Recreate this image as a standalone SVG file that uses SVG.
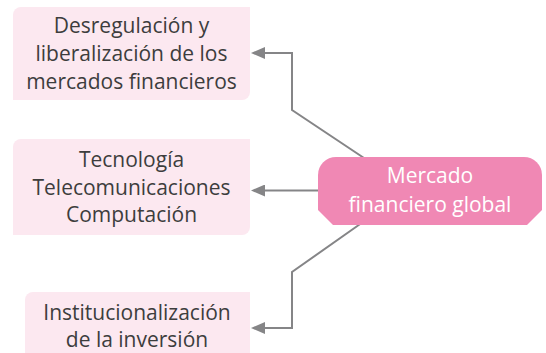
<svg xmlns="http://www.w3.org/2000/svg" width="546" height="353" viewBox="0 0 546 353">
<style>
.box{fill:#FCE8F0;}
.hub{fill:#F088B4;}
.t{font-family:"Open Sans",Lato,"Liberation Sans",sans-serif;font-size:21px;fill:#3d3d3d;text-anchor:middle;}
.th{font-family:"Open Sans",Lato,"Liberation Sans",sans-serif;font-size:21px;fill:#ffffff;text-anchor:middle;}
.c{fill:none;stroke:#858587;stroke-width:2;}
</style>
<defs>
<marker id="arr" markerUnits="userSpaceOnUse" markerWidth="14" markerHeight="12" viewBox="0 0 14 12" refX="7" refY="6" orient="auto">
<path d="M0,0 L14,6 L0,12 Z" fill="#858587"/>
</marker>
</defs>
<rect width="546" height="353" fill="#ffffff"/>
<g id="connectors">
<polyline class="c" points="367,160 292,110 292,53 258,53" marker-end="url(#arr)"/>
<polyline class="c" points="320,190.5 258,190.5" marker-end="url(#arr)"/>
<polyline class="c" points="363,222 292,272 292,328 258,328" marker-end="url(#arr)"/>
</g>
<g id="node-desregulacion">
<path class="box" d="M13,15 A8,8 0 0 1 21,7 H250 V92 A8,8 0 0 1 242,100 H13 Z"/>
<text class="t" x="131.5" y="33">Desregulación y</text>
<text class="t" x="131.5" y="61">liberalización de los</text>
<text class="t" x="131.5" y="89">mercados financieros</text>
</g>
<g id="node-tecnologia">
<path class="box" d="M13,147 A8,8 0 0 1 21,139 H250 V227 A8,8 0 0 1 242,235 H13 Z"/>
<text class="t" x="131.5" y="167">Tecnología</text>
<text class="t" x="131.5" y="195">Telecomunicaciones</text>
<text class="t" x="131.5" y="222">Computación</text>
</g>
<g id="node-institucionalizacion">
<path class="box" d="M25,300 A8,8 0 0 1 33,292 H250 V353 H25 Z"/>
<text class="t" x="137" y="320">Institucionalización</text>
<text class="t" x="137" y="347">de la inversión</text>
</g>
<g id="node-mercado">
<path class="hub" d="M318,175 A18,18 0 0 1 336,157 H524 A18,18 0 0 1 542,175 V210 L527,225 H333 L318,210 Z"/>
<text class="th" x="430" y="183">Mercado</text>
<text class="th" x="430" y="212">financiero global</text>
</g>
</svg>
